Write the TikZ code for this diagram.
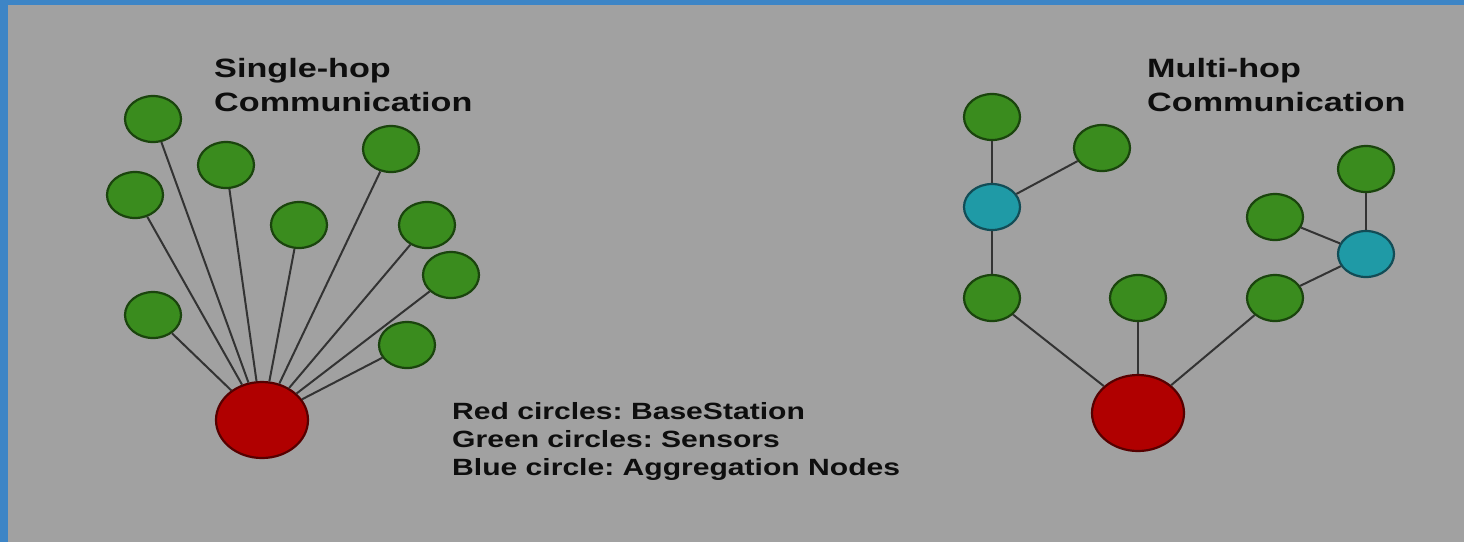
\documentclass[tikz,border=0pt]{standalone}
\usepackage{fontspec}
\setmainfont{Liberation Sans}
\usetikzlibrary{shapes.geometric}
\frenchspacing

\definecolor{panelbg}{HTML}{A1A1A1}
\definecolor{framecol}{HTML}{3D85C6}
\definecolor{sensorfill}{HTML}{3A8C1E}
\definecolor{sensoredge}{HTML}{1A440D}
\definecolor{basefill}{HTML}{B00000}
\definecolor{baseedge}{HTML}{560000}
\definecolor{aggfill}{HTML}{1F9AA6}
\definecolor{aggedge}{HTML}{124C56}
\definecolor{linkcol}{HTML}{333333}
\definecolor{textcol}{HTML}{0E0E0E}

\tikzset{
  sensor/.style={ellipse, fill=sensorfill, draw=sensoredge, line width=2.2pt,
                 minimum width=56pt, minimum height=46pt, inner sep=0pt},
  aggregator/.style={ellipse, fill=aggfill, draw=aggedge, line width=2.2pt,
                 minimum width=56pt, minimum height=46pt, inner sep=0pt},
  basestation/.style={ellipse, fill=basefill, draw=baseedge, line width=2.2pt,
                 minimum width=92pt, minimum height=76pt, inner sep=0pt},
  link/.style={draw=linkcol, line width=2pt},
  heading/.style={anchor=base west, inner sep=0pt, text=textcol,
                  font=\fontsize{26.5}{32}\selectfont\bfseries},
  legendline/.style={anchor=base west, inner sep=0pt, text=textcol,
                  font=\fontsize{23.5}{28}\selectfont\bfseries},
}

\begin{document}
\begin{tikzpicture}[x=1pt, y=-1pt]
% frame and panel
\fill[framecol] (0,0) rectangle (1464,542);
\fill[panelbg] (8,5) rectangle (1464,542);
\useasboundingbox (0,0) rectangle (1464,542);

% ---------- single-hop network ----------
\node[basestation] (sbase) at (262,420) {};
\node[sensor] (s1) at (153,119) {};
\node[sensor] (s2) at (135,195) {};
\node[sensor] (s3) at (226,165) {};
\node[sensor] (s4) at (299,225) {};
\node[sensor] (s5) at (391,149) {};
\node[sensor] (s6) at (427,225) {};
\node[sensor] (s7) at (451,275) {};
\node[sensor] (s8) at (153,315) {};
\node[sensor] (s9) at (407,345) {};
\foreach \s in {s1,s2,s3,s4,s5,s6,s7,s8,s9}
  \draw[link] (\s) -- (sbase);

\node[heading] (shop1) at (214,77) {\scalebox{1.29}[1]{Single-hop}};
\node[heading] (shop2) at (214,111) {\scalebox{1.29}[1]{Communication}};

% ---------- multi-hop network ----------
\node[basestation] (mbase) at (1138,413) {};
\node[sensor] (m1) at (992,117) {};
\node[sensor] (m2) at (1102,148) {};
\node[aggregator] (agg1) at (992,207) {};
\node[sensor] (m3) at (992,298) {};
\node[sensor] (m4) at (1138,298) {};
\node[sensor] (m5) at (1275,298) {};
\node[sensor] (m6) at (1275,217) {};
\node[sensor] (m7) at (1366,169) {};
\node[aggregator] (agg2) at (1366,254) {};

\draw[link] (m1) -- (agg1);
\draw[link] (m2) -- (agg1);
\draw[link] (agg1) -- (m3);
\draw[link] (m3) -- (mbase);
\draw[link] (m4) -- (mbase);
\draw[link] (m5) -- (mbase);
\draw[link] (m5) -- (agg2);
\draw[link] (m6) -- (agg2);
\draw[link] (m7) -- (agg2);

\node[heading] (mhop1) at (1147,77) {\scalebox{1.29}[1]{Multi-hop}};
\node[heading] (mhop2) at (1147,111) {\scalebox{1.29}[1]{Communication}};

% ---------- legend ----------
\node[legendline] (leg1) at (452,419) {\scalebox{1.28}[1]{Red circles: BaseStation}};
\node[legendline] (leg2) at (452,447) {\scalebox{1.28}[1]{Green circles: Sensors}};
\node[legendline] (leg3) at (452,475) {\scalebox{1.28}[1]{Blue circle: Aggregation Nodes}};
\end{tikzpicture}
\end{document}
